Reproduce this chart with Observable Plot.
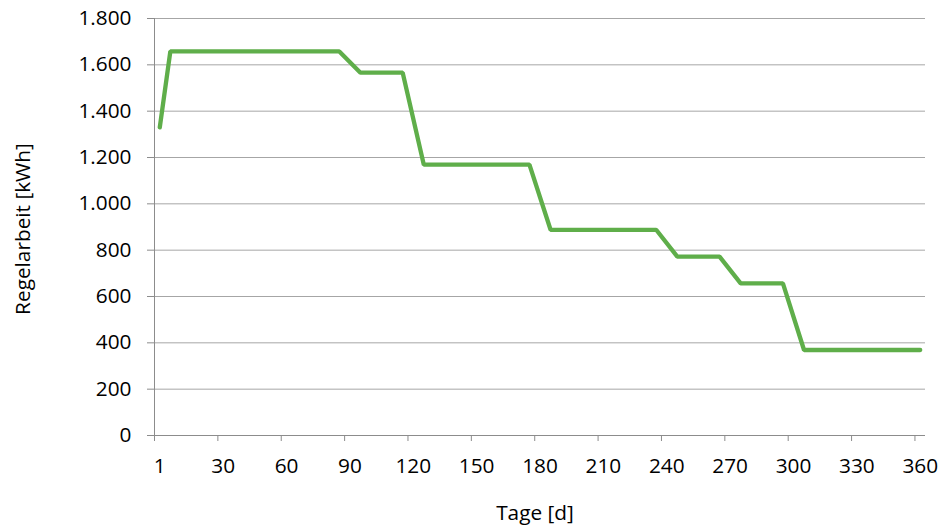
<!DOCTYPE html>
<html>
<head>
<meta charset="utf-8">
<script src="https://cdn.jsdelivr.net/npm/d3@7"></script>
<script src="https://cdn.jsdelivr.net/npm/@observablehq/plot@0.6"></script>
<style>
  html, body { margin: 0; padding: 0; background: #ffffff; }
  #chart svg { display: block; }
</style>
</head>
<body>
<div id="chart"></div>
<script>
// Category axis (Excel-style): day categories
const categories = ["1","5","10","15","20","25","30","35","40","45","50","55","60","65","70","75","80","85","90","95",
  "100","105","110","115","120","125","130","135","140","145","150","155","160","165","170","175","180","185","190","195",
  "200","205","210","215","220","225","230","235","240","245","250","255","260","265","270","275","280","285","290","295",
  "300","305","310","315","320","325","330","335","340","345","350","355","360"];
const tickLabels = ["1","30","60","90","120","150","180","210","240","270","300","330","360"];

// Series corner points (day category, kWh)
const seriesDays   = ["1","5","85","95","115","125","175","185","235","245","265","275","295","305","360"];
const seriesValues = [1330,1658,1658,1566,1566,1169,1169,888,888,772,772,657,657,369,369];

const yTicks = [0,200,400,600,800,1000,1200,1400,1600,1800];

const xTitle = "Tage [d]";
const yTitle = "Regelarbeit [kWh]";

const data = seriesDays.map((d, i) => ({day: d, value: seriesValues[i]}));
const idx = d => categories.indexOf(d);

const FONT = "'Open Sans', sans-serif";
const FS = 20.8;
const gridColor = "#a6a6a6";
const axisColor = "#8c8c8c";

const chart = Plot.plot({
  width: 943,
  height: 532,
  marginTop: 18,
  marginLeft: 154,
  marginRight: 18,
  marginBottom: 97,
  style: {fontFamily: FONT, fontSize: FS + "px", color: "#000", background: "#fff"},
  x: {type: "linear", domain: [-0.5, categories.length - 0.5]},
  y: {type: "linear", domain: [0, 1800]},
  marks: [
    Plot.gridY(yTicks.filter(t => t > 0), {stroke: gridColor, strokeOpacity: 1, strokeWidth: 1}),
    Plot.ruleY([0], {stroke: axisColor, strokeWidth: 1}),
    Plot.ruleX([-0.5], {stroke: axisColor, strokeWidth: 1}),
    Plot.axisY(yTicks, {
      tickFormat: d => d.toLocaleString("de-DE"),
      tickSize: 7, tickPadding: 16, stroke: axisColor, fill: "#000",
      fontSize: FS, label: null
    }),
    Plot.axisX(tickLabels.map(l => idx(l) - 0.5), {
      tickFormat: () => "", tickSize: 6, stroke: axisColor, label: null
    }),
    Plot.axisX(tickLabels.map(l => idx(l)), {
      tickFormat: i => categories[i], tickSize: 0, tickPadding: 23,
      fill: "#000", fontSize: FS, label: null
    }),
    Plot.line(data, {
      x: d => idx(d.day), y: "value",
      stroke: "#5fae4a", strokeWidth: 4.3, strokeLinecap: "round", strokeLinejoin: "miter"
    }),
    Plot.text([yTitle], {frameAnchor: "left", textAnchor: "middle", dx: -131, dy: 2, rotate: -90, fontSize: FS, fill: "#000"}),
    Plot.text([xTitle], {frameAnchor: "bottom", dx: -5, dy: 84, fontSize: FS, fill: "#000"})
  ]
});
document.getElementById("chart").appendChild(chart);
</script>
</body>
</html>
